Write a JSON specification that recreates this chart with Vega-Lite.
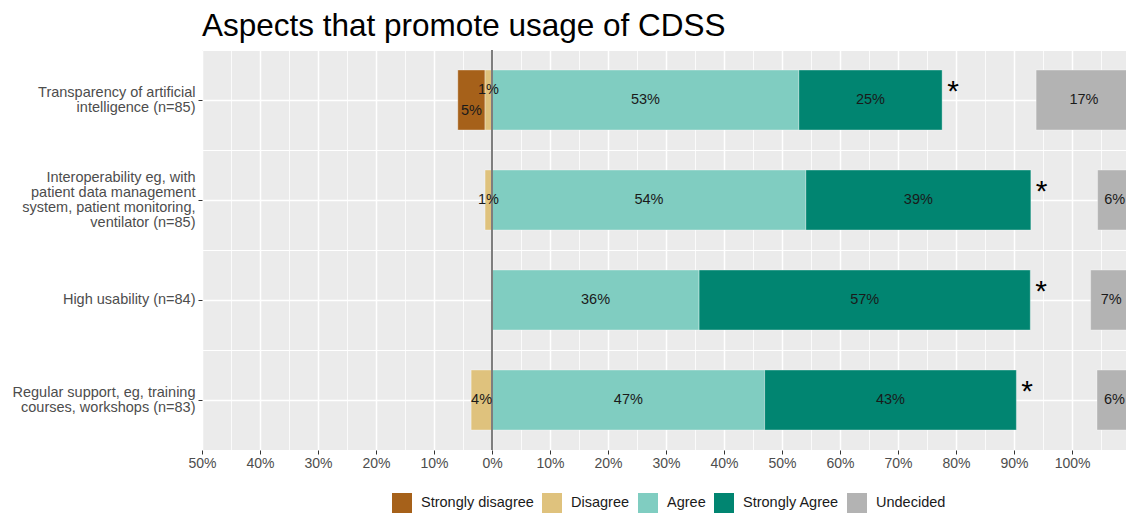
{
  "$schema": "https://vega.github.io/schema/vega-lite/v6.json",
  "autosize": {"type": "none"},
  "padding": {"left": 202, "top": 50, "right": 0, "bottom": 63},
  "width": 924,
  "height": 400,
  "background": "white",
  "title": {
    "text": "Aspects that promote usage of CDSS",
    "anchor": "start",
    "frame": "group",
    "fontSize": 31.5,
    "font": "Liberation Sans",
    "fontWeight": "normal",
    "color": "#000000",
    "offset": 7
  },
  "config": {
    "view": {"fill": "#EBEBEB", "stroke": null},
    "font": "Liberation Sans"
  },
  "data": {
    "values": [
      {"q": "Transparency of artificial|intelligence (n=85)", "response": "Strongly disagree", "pct": 4.7},
      {"q": "Transparency of artificial|intelligence (n=85)", "response": "Disagree", "pct": 1.2},
      {"q": "Transparency of artificial|intelligence (n=85)", "response": "Agree", "pct": 52.9},
      {"q": "Transparency of artificial|intelligence (n=85)", "response": "Strongly Agree", "pct": 24.7},
      {"q": "Transparency of artificial|intelligence (n=85)", "response": "Undecided", "pct": 16.5},
      {"q": "Interoperability eg, with|patient data management|system, patient monitoring,|ventilator (n=85)", "response": "Disagree", "pct": 1.2},
      {"q": "Interoperability eg, with|patient data management|system, patient monitoring,|ventilator (n=85)", "response": "Agree", "pct": 54.1},
      {"q": "Interoperability eg, with|patient data management|system, patient monitoring,|ventilator (n=85)", "response": "Strongly Agree", "pct": 38.8},
      {"q": "Interoperability eg, with|patient data management|system, patient monitoring,|ventilator (n=85)", "response": "Undecided", "pct": 5.9},
      {"q": "High usability (n=84)", "response": "Agree", "pct": 35.7},
      {"q": "High usability (n=84)", "response": "Strongly Agree", "pct": 57.1},
      {"q": "High usability (n=84)", "response": "Undecided", "pct": 7.1},
      {"q": "Regular support, eg, training|courses, workshops (n=83)", "response": "Disagree", "pct": 3.6},
      {"q": "Regular support, eg, training|courses, workshops (n=83)", "response": "Agree", "pct": 47.0},
      {"q": "Regular support, eg, training|courses, workshops (n=83)", "response": "Strongly Agree", "pct": 43.4},
      {"q": "Regular support, eg, training|courses, workshops (n=83)", "response": "Undecided", "pct": 6.0}
    ]
  },
  "transform": [
    {"calculate": "indexof(['Strongly disagree','Disagree','Agree','Strongly Agree','Undecided'], datum.response)", "as": "ord"},
    {"calculate": "datum.ord < 2 ? datum.pct : 0", "as": "neg"},
    {"joinaggregate": [{"op": "sum", "field": "neg", "as": "negTotal"}], "groupby": ["q"]},
    {"window": [{"op": "sum", "field": "pct", "as": "cum"}], "sort": [{"field": "ord"}], "groupby": ["q"], "frame": [null, 0]},
    {"calculate": "datum.response == 'Undecided' ? 110.3 - datum.pct : datum.cum - datum.pct - datum.negTotal", "as": "x0"},
    {"calculate": "datum.response == 'Undecided' ? 110.3 : datum.cum - datum.negTotal", "as": "x1"},
    {"calculate": "(datum.x0 + datum.x1) / 2", "as": "xm"},
    {"calculate": "round(datum.pct) + '%'", "as": "lbl"}
  ],
  "layer": [
    {
      "transform": [{"filter": "datum.response != 'Undecided'"}],
      "mark": {"type": "bar", "height": {"band": 0.6}, "clip": true, "stroke": "#ffffff", "strokeOpacity": 0.35, "strokeWidth": 1},
      "encoding": {
        "y": {
          "field": "q", "type": "nominal", "sort": null,
          "scale": {"paddingInner": 0, "paddingOuter": 0},
          "axis": {
            "title": null,
            "labelExpr": "split(datum.label, '|')",
            "labelFontSize": 14.5,
            "labelColor": "#4D4D4D",
            "labelLineHeight": 15,
            "labelPadding": 3,
            "labelLimit": 300,
            "labelOffset": {
              "condition": [
                {"test": "indexof(datum.label, 'Interoperability') == 0", "value": -22.5},
                {"test": "indexof(datum.label, 'High') == 0", "value": 0}
              ],
              "value": -7.5
            },
            "tickSize": 4,
            "tickColor": "#333333",
            "domain": false,
            "grid": true,
            "gridColor": "#FFFFFF",
            "gridWidth": 1.5
          }
        },
        "x": {
          "field": "x0", "type": "quantitative",
          "scale": {"domain": [-50, 109.3], "nice": false, "zero": false},
          "axis": {
            "title": null,
            "values": [-50,-40,-30,-20,-10,0,10,20,30,40,50,60,70,80,90,100],
            "labelExpr": "abs(datum.value) + '%'",
            "labelFontSize": 14,
            "labelColor": "#4D4D4D",
            "labelPadding": 2,
            "labelFlush": false,
            "tickSize": 4,
            "tickColor": "#333333",
            "domain": false,
            "grid": true,
            "gridColor": "#FFFFFF",
            "gridWidth": 1.5
          }
        },
        "x2": {"field": "x1"},
        "color": {
          "field": "response", "type": "nominal",
          "scale": {
            "domain": ["Strongly disagree", "Disagree", "Agree", "Strongly Agree", "Undecided"],
            "range": ["#A6611A", "#DFC27D", "#80CDC1", "#018571", "#B3B3B3"]
          },
          "legend": {
            "title": null,
            "orient": "none",
            "direction": "horizontal",
            "legendX": 190,
            "legendY": 443,
            "symbolType": "square",
            "symbolSize": 400,
            "symbolStrokeWidth": 0,
            "symbolOpacity": 1,
            "labelFontSize": 14.5,
            "labelColor": "#1A1A1A",
            "labelOffset": 9,
            "columnPadding": 8,
            "padding": 0
          }
        }
      }
    },
    {
      "transform": [{"filter": "datum.response == 'Undecided'"}],
      "mark": {"type": "bar", "height": {"band": 0.6}, "clip": true, "stroke": "#ffffff", "strokeOpacity": 0.35, "strokeWidth": 1},
      "encoding": {
        "y": {
          "field": "q", "type": "nominal", "sort": null,
          "axis": {
            "orient": "right",
            "title": null,
            "labels": false,
            "ticks": false,
            "domain": false,
            "tickBand": "extent",
            "grid": true,
            "gridColor": "#FFFFFF",
            "gridWidth": 1
          }
        },
        "x": {
          "field": "x0", "type": "quantitative",
          "axis": {
            "orient": "top",
            "title": null,
            "values": [-45,-35,-25,-15,-5,5,15,25,35,45,55,65,75,85,95,105],
            "labels": false,
            "ticks": false,
            "domain": false,
            "grid": true,
            "gridColor": "#FFFFFF",
            "gridWidth": 0.8
          }
        },
        "x2": {"field": "x1"},
        "color": {"field": "response", "type": "nominal"}
      }
    },
    {
      "mark": {"type": "rule", "color": "#7F7F7F", "strokeWidth": 1},
      "encoding": {"x": {"datum": 0, "axis": null}}
    },
    {
      "transform": [{"filter": "!(indexof(datum.q, 'Transparency') == 0 && datum.ord < 2)"}],
      "mark": {"type": "text", "fontSize": 14.5, "color": "#1A1A1A", "clip": true},
      "encoding": {
        "y": {"field": "q", "type": "nominal", "sort": null, "axis": null},
        "x": {"field": "xm", "type": "quantitative", "axis": null},
        "text": {"field": "lbl"}
      }
    },
    {
      "transform": [{"filter": "indexof(datum.q, 'Transparency') == 0 && datum.response == 'Disagree'"}],
      "mark": {"type": "text", "fontSize": 14.5, "color": "#1A1A1A", "dy": -10},
      "encoding": {
        "y": {"field": "q", "type": "nominal", "sort": null, "axis": null},
        "x": {"field": "xm", "type": "quantitative", "axis": null},
        "text": {"field": "lbl"}
      }
    },
    {
      "transform": [{"filter": "indexof(datum.q, 'Transparency') == 0 && datum.response == 'Strongly disagree'"}],
      "mark": {"type": "text", "fontSize": 14.5, "color": "#1A1A1A", "dy": 11},
      "encoding": {
        "y": {"field": "q", "type": "nominal", "sort": null, "axis": null},
        "x": {"field": "xm", "type": "quantitative", "axis": null},
        "text": {"field": "lbl"}
      }
    },
    {
      "transform": [{"filter": "datum.response == 'Strongly Agree'"}],
      "mark": {"type": "text", "fontSize": 30, "color": "#000000", "align": "left", "dx": 5, "dy": -8},
      "encoding": {
        "y": {"field": "q", "type": "nominal", "sort": null, "axis": null},
        "x": {"field": "x1", "type": "quantitative", "axis": null},
        "text": {"value": "*"}
      }
    }
  ],
  "resolve": {"axis": {"y": "independent", "x": "independent"}}
}
